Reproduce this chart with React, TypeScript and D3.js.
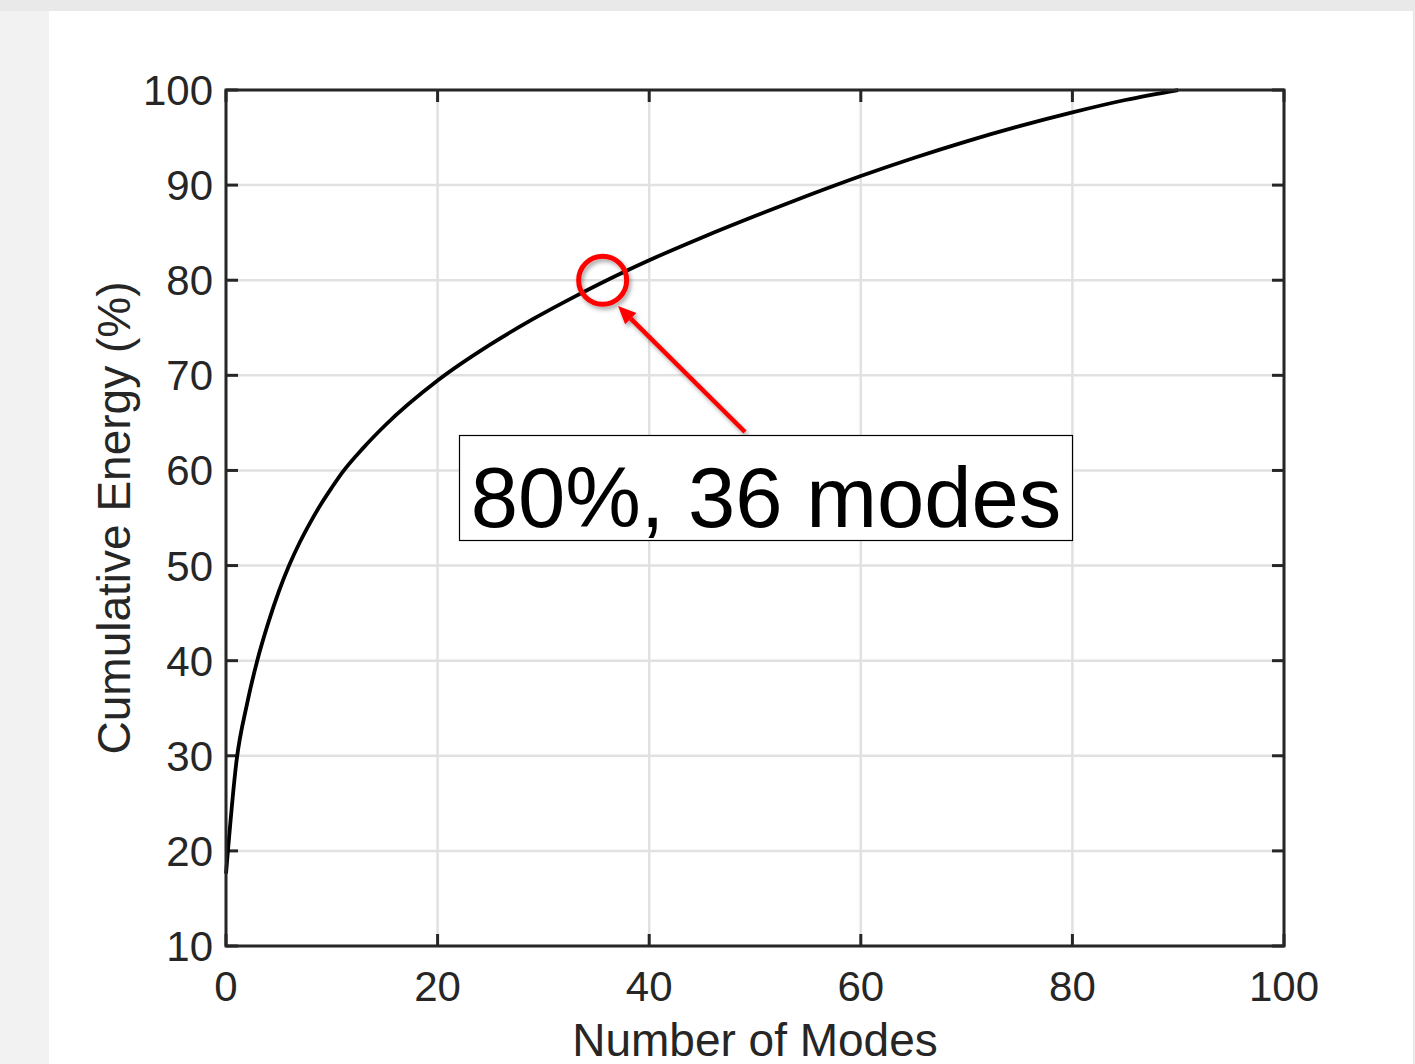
import React from "react";
import * as d3 from "d3";

// Data
const modes = [0, 1, 2, 3, 4, 5, 6, 7, 8, 9, 10, 11, 13, 15, 20, 25, 29, 33, 36, 40, 45, 50, 55, 60, 65, 70, 75, 80, 85, 90];
const cumulativeEnergy = [17.6, 29.5, 35.5, 40.2, 44.0, 47.3, 50.1, 52.5, 54.6, 56.5, 58.2, 59.8, 62.4, 64.7, 69.45, 73.25, 75.9, 78.3, 80.0, 82.1, 84.5, 86.75, 88.9, 90.95, 92.85, 94.6, 96.2, 97.65, 98.95, 100];
const xTicks = [0, 20, 40, 60, 80, 100];
const yTicks = [10, 20, 30, 40, 50, 60, 70, 80, 90, 100];
const xLabel = "Number of Modes";
const yLabel = "Cumulative Energy (%)";
const annotationText = "80%, 36 modes";
const markerPoint = { x: 35.6, y: 80 };

const W = 1415;
const H = 1064;
const left = 226;
const right = 1284;
const top = 90;
const bottom = 946;

export default function App() {
  const x = d3.scaleLinear().domain([0, 100]).range([left, right]);
  const y = d3.scaleLinear().domain([10, 100]).range([bottom, top]);
  const pts = modes.map((m, i) => [m, cumulativeEnergy[i]] as [number, number]);
  const line = d3
    .line<[number, number]>()
    .x((d) => x(d[0]))
    .y((d) => y(d[1]))
    .curve(d3.curveMonotoneX);

  const font = "Arial, 'Liberation Sans', Helvetica, sans-serif";
  const axisColor = "#262626";
  const gridColor = "#e1e1e1";
  const tickLen = 12;

  const cx = x(markerPoint.x);
  const cy = y(markerPoint.y);
  // arrow from annotation box up to marker
  const arrowStart = { x: 745, y: 432 };
  const arrowTip = { x: 618, y: 306 };
  const ang = Math.atan2(arrowTip.y - arrowStart.y, arrowTip.x - arrowStart.x);
  const headLen = 18;
  const headW = 8;
  const bx = arrowTip.x - headLen * Math.cos(ang);
  const by = arrowTip.y - headLen * Math.sin(ang);
  const px = -Math.sin(ang) * headW;
  const py = Math.cos(ang) * headW;

  return (
    <svg
      width={W}
      height={H}
      style={{ position: "absolute", left: 0, top: 0, display: "block" }}
      xmlns="http://www.w3.org/2000/svg"
    >
      <defs>
        <filter id="shadow" x="-50%" y="-50%" width="200%" height="200%">
          <feDropShadow dx="2" dy="3" stdDeviation="2" floodColor="#000" floodOpacity="0.35" />
        </filter>
        <linearGradient id="bgLeft" x1="0" x2="1" y1="0" y2="0">
          <stop offset="0" stopColor="#f2f2f2" />
          <stop offset="1" stopColor="#ececec" />
        </linearGradient>
      </defs>
      <rect x={0} y={0} width={W} height={H} fill="url(#bgLeft)" />
      <rect x={0} y={0} width={W} height={11} fill="#e9e9e9" />
      <rect x={49} y={11} width={1364} height={H - 11} fill="#ffffff" />
      <line x1={1413.5} x2={1413.5} y1={11} y2={H} stroke="#e6e6e6" strokeWidth={1} />

      {/* grid */}
      <g>
        {xTicks.map((t) => (
          <line key={"gx" + t} x1={x(t)} x2={x(t)} y1={top} y2={bottom} stroke={gridColor} strokeWidth={2.5} />
        ))}
        {yTicks.map((t) => (
          <line key={"gy" + t} x1={left} x2={right} y1={y(t)} y2={y(t)} stroke={gridColor} strokeWidth={2.5} />
        ))}
      </g>

      {/* ticks on all four sides */}
      <g stroke={axisColor} strokeWidth={3}>
        {xTicks.map((t) => (
          <g key={"tx" + t}>
            <line x1={x(t)} x2={x(t)} y1={bottom} y2={bottom - tickLen} />
            <line x1={x(t)} x2={x(t)} y1={top} y2={top + tickLen} />
          </g>
        ))}
        {yTicks.map((t) => (
          <g key={"ty" + t}>
            <line x1={left} x2={left + tickLen} y1={y(t)} y2={y(t)} />
            <line x1={right} x2={right - tickLen} y1={y(t)} y2={y(t)} />
          </g>
        ))}
      </g>

      {/* curve */}
      <path d={line(pts) || ""} fill="none" stroke="#000" strokeWidth={3.8} strokeLinejoin="round" />

      {/* axes box */}
      <rect x={left} y={top} width={right - left} height={bottom - top} fill="none" stroke={axisColor} strokeWidth={3} />

      {/* tick labels */}
      <g fontFamily={font} fontSize={42} fill={axisColor}>
        {xTicks.map((t) => (
          <text key={"lx" + t} x={x(t)} y={1001} textAnchor="middle">
            {t}
          </text>
        ))}
        {yTicks.map((t) => (
          <text key={"ly" + t} x={213} y={y(t) + 15} textAnchor="end">
            {t}
          </text>
        ))}
      </g>

      {/* axis labels */}
      <text x={(left + right) / 2} y={1056} textAnchor="middle" fontFamily={font} fontSize={46} fill={axisColor}>
        {xLabel}
      </text>
      <text
        transform={`translate(130, ${(top + bottom) / 2}) rotate(-90)`}
        textAnchor="middle"
        fontFamily={font}
        fontSize={46}
        fill={axisColor}
      >
        {yLabel}
      </text>

      {/* red marker circle and arrow */}
      <g filter="url(#shadow)">
        <circle cx={cx} cy={cy} r={24} fill="none" stroke="#ff0000" strokeWidth={5} />
        <line x1={arrowStart.x} y1={arrowStart.y} x2={bx} y2={by} stroke="#ff0000" strokeWidth={4.5} />
        <polygon
          points={`${arrowTip.x},${arrowTip.y} ${bx + px},${by + py} ${bx - px},${by - py}`}
          fill="#ff0000"
        />
      </g>

      {/* annotation box */}
      <rect x={459.5} y={435.5} width={613} height={105} fill="#ffffff" stroke="#000" strokeWidth={1.2} />
      <text x={766} y={527} textAnchor="middle" fontFamily={font} fontSize={85} fill="#000">
        {annotationText}
      </text>
    </svg>
  );
}
